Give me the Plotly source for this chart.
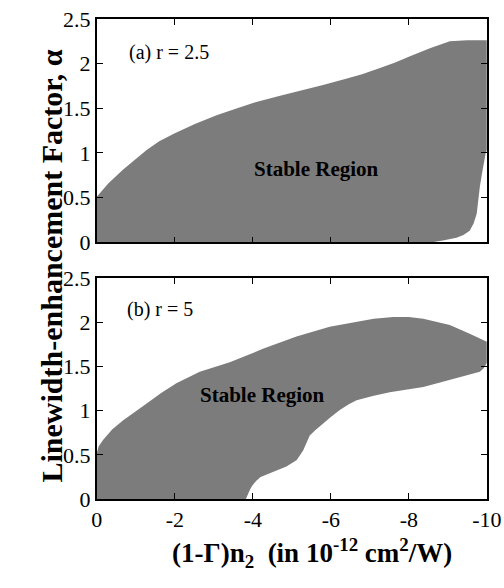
import plotly.graph_objects as go
from plotly.subplots import make_subplots

# Panel (a) r = 2.5 : boundary of the stable region (x = (1-Γ)n2, y = alpha)
a_upper_x = [0, -0.3, -0.67, -1.0, -1.27, -1.6, -2.0, -2.5, -3.07, -3.6, -4.09, -4.7, -5.29, -5.8, -6.32, -6.8, -7.26, -7.65, -8.03, -8.54, -9.05, -9.5, -10.0]
a_upper_y = [0.51, 0.66, 0.81, 0.93, 1.03, 1.13, 1.22, 1.32, 1.42, 1.50, 1.57, 1.64, 1.70, 1.76, 1.82, 1.88, 1.95, 2.01, 2.08, 2.17, 2.25, 2.26, 2.26]
a_right_x = [-10.0, -9.97, -9.95, -9.88, -9.82, -9.78, -9.74, -9.66, -9.56, -9.40, -9.22, -8.87, -8.6, -4.0, 0]
a_right_y = [1.03, 1.0, 0.96, 0.78, 0.62, 0.46, 0.32, 0.21, 0.13, 0.08, 0.05, 0.02, 0.0, 0.0, 0.0]

# Panel (b) r = 5
b_upper_x = [0, -0.05, -0.16, -0.4, -0.67, -1.0, -1.27, -1.65, -2.04, -2.64, -3.41, -4.26, -5.12, -5.97, -6.66, -7.1, -7.60, -8.0, -8.37, -8.7, -9.05, -9.56, -10.0]
b_upper_y = [0.52, 0.60, 0.67, 0.79, 0.89, 1.0, 1.08, 1.20, 1.31, 1.44, 1.55, 1.70, 1.84, 1.95, 2.01, 2.04, 2.06, 2.06, 2.04, 2.01, 1.97, 1.87, 1.78]
b_lower_x = [-10.0, -9.92, -9.82, -9.5, -9.22, -8.8, -8.37, -7.9, -7.51, -7.1, -6.66, -6.45, -6.23, -6.0, -5.80, -5.6, -5.46, -5.36, -5.29, -5.2, -5.12, -4.86, -4.44, -4.2, -4.09, -3.98, -3.92, -3.82, -2.0, 0]
b_lower_y = [1.54, 1.48, 1.44, 1.40, 1.37, 1.32, 1.27, 1.24, 1.21, 1.17, 1.12, 1.07, 1.01, 0.93, 0.86, 0.78, 0.72, 0.63, 0.55, 0.49, 0.44, 0.37, 0.29, 0.25, 0.21, 0.15, 0.10, 0.0, 0.0, 0.0]

x_ticks = [0, -2, -4, -6, -8, -10]
x_ticklabels = ["0", "-2", "-4", "-6", "-8", "-10"]
y_ticks = [0, 0.5, 1, 1.5, 2, 2.5]
y_ticklabels = ["0", "0.5", "1", "1.5", "2", "2.5"]

FONT = "Liberation Serif, Times New Roman, serif"
FILL = "#7c7c7c"

fig = make_subplots(rows=2, cols=1, vertical_spacing=0.06)

fig.add_trace(go.Scatter(x=a_upper_x + a_right_x, y=a_upper_y + a_right_y,
                         fill="toself", fillcolor=FILL, mode="lines",
                         line=dict(width=0, color=FILL), hoverinfo="skip", showlegend=False), row=1, col=1)
fig.add_trace(go.Scatter(x=b_upper_x + b_lower_x, y=b_upper_y + b_lower_y,
                         fill="toself", fillcolor=FILL, mode="lines",
                         line=dict(width=0, color=FILL), hoverinfo="skip", showlegend=False), row=2, col=1)

axis_common = dict(showline=True, linecolor="black", linewidth=1.5, mirror="ticks",
                   ticks="inside", ticklen=6, tickwidth=1.2, tickcolor="black",
                   showgrid=False, zeroline=False, automargin=False,
                   tickfont=dict(family=FONT, size=22, color="black"))

fig.update_xaxes(range=[0, -10], tickvals=x_ticks, ticktext=x_ticklabels, **axis_common)
fig.update_yaxes(range=[0, 2.5], tickvals=y_ticks, ticktext=y_ticklabels, **axis_common)
fig.update_xaxes(showticklabels=False, row=1, col=1)

fig.update_layout(
    font=dict(family=FONT, color="black"),
    xaxis=dict(domain=[0.192, 0.966]),
    xaxis2=dict(domain=[0.192, 0.966]),
    yaxis=dict(domain=[0.588, 0.968]),
    yaxis2=dict(domain=[0.151, 0.527]),
)

fig.add_annotation(x=-0.77, y=2.12, xref="x", yref="y", text="(a) r = 2.5", showarrow=False,
                   xanchor="left", font=dict(family=FONT, size=20, color="black"))
fig.add_annotation(x=-5.64, y=0.82, xref="x", yref="y", text="<b>Stable Region</b>", showarrow=False,
                   font=dict(family=FONT, size=21, color="black"))
fig.add_annotation(x=-0.72, y=2.15, xref="x2", yref="y2", text="(b) r = 5", showarrow=False,
                   xanchor="left", font=dict(family=FONT, size=20, color="black"))
fig.add_annotation(x=-4.26, y=1.18, xref="x2", yref="y2", text="<b>Stable Region</b>", showarrow=False,
                   font=dict(family=FONT, size=21, color="black"))

fig.add_annotation(x=33 / 504, y=1 - 266 / 588, xref="paper", yref="paper",
                   text="<b>Linewidth-enhancement Factor, α</b>", textangle=-90, showarrow=False,
                   font=dict(family=FONT, size=30, color="black"))
fig.add_annotation(x=312 / 504, y=1 - 574 / 588, xref="paper", yref="paper",
                   text="<b>(1-Γ)n<sub>2</sub>&nbsp;&nbsp;(in 10<sup>-12</sup> cm<sup>2</sup>/W)</b>",
                   showarrow=False, font=dict(family=FONT, size=27, color="black"))

fig.update_layout(width=504, height=588, margin=dict(l=0, r=0, t=0, b=0, autoexpand=False),
                  paper_bgcolor="white", plot_bgcolor="white")

fig.write_html("out.html")
